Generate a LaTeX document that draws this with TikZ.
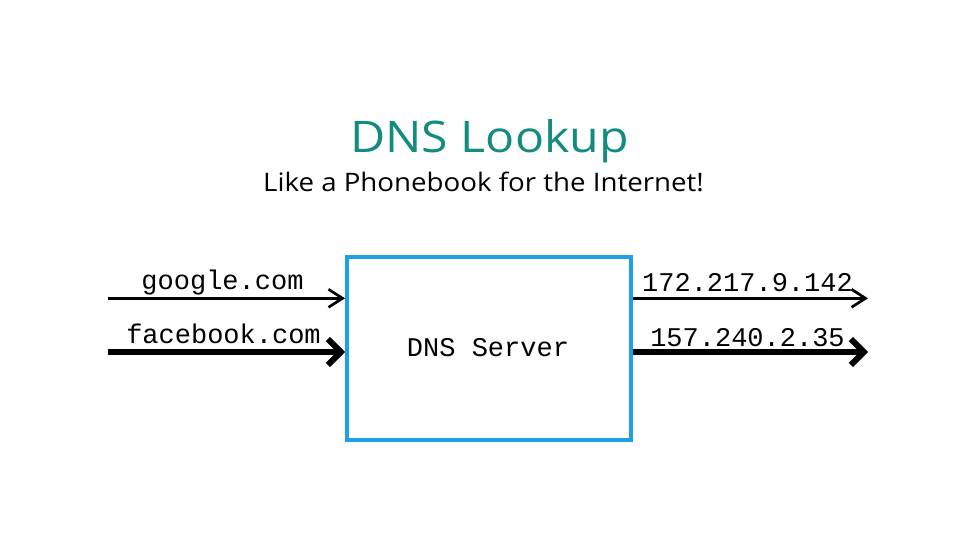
\documentclass[tikz,border=0pt]{standalone}
\usepackage{fontspec}
\setmainfont{Open Sans}
\setmonofont{Liberation Mono}
\usetikzlibrary{arrows.meta}
\definecolor{titleteal}{RGB}{20,140,125}
\definecolor{boxblue}{RGB}{30,160,232}
\tikzset{
  thinarrow/.style={line width=2.7pt,-{Straight Barb[length=14pt,width=18pt]}},
  thickarrow/.style={line width=6pt,-{Straight Barb[length=13pt,width=26pt]}},
  monolabel/.style={font=\ttfamily\fontsize{27}{30}\selectfont,anchor=base,inner sep=0pt},
}
\begin{document}
\begin{tikzpicture}[x=1pt,y=-1pt]
\useasboundingbox (0,0) rectangle (975,545);
\node[font=\fontsize{43.5}{50}\selectfont,text=titleteal,anchor=base,inner sep=0pt] (title) at (489.5,153) {\scalebox{1.11}[1]{DNS Lookup}};
\node[font=\fontsize{25.5}{30}\selectfont,anchor=base,inner sep=0pt] (subtitle) at (483.5,192) {\scalebox{1.085}[1]{Like a Phonebook for the Internet!}};
\node[draw=boxblue,line width=4pt,minimum width=283.5pt,minimum height=182.5pt,inner sep=0pt] (server) at (488.75,348.25) {};
\node[monolabel] (servertext) at (488,357) {DNS Server};
\coordinate (in1) at (108,298.3);
\coordinate (in2) at (108,352);
\coordinate (out1) at (868,298.3);
\coordinate (out2) at (868,352);
\draw[thinarrow] (in1) -- (in1 -| server.west);
\draw[thickarrow] (in2) -- (in2 -| server.west);
\draw[thinarrow] (server.east |- out1) -- (out1);
\draw[thickarrow] (server.east |- out2) -- (out2);
\node[monolabel] (l1) at (222.5,290) {google.com};
\node[monolabel] (l2) at (223.5,344) {facebook.com};
\node[monolabel] (r1) at (747.5,291.7) {172.217.9.142};
\node[monolabel] (r2) at (747.5,347) {157.240.2.35};
\end{tikzpicture}
\end{document}
